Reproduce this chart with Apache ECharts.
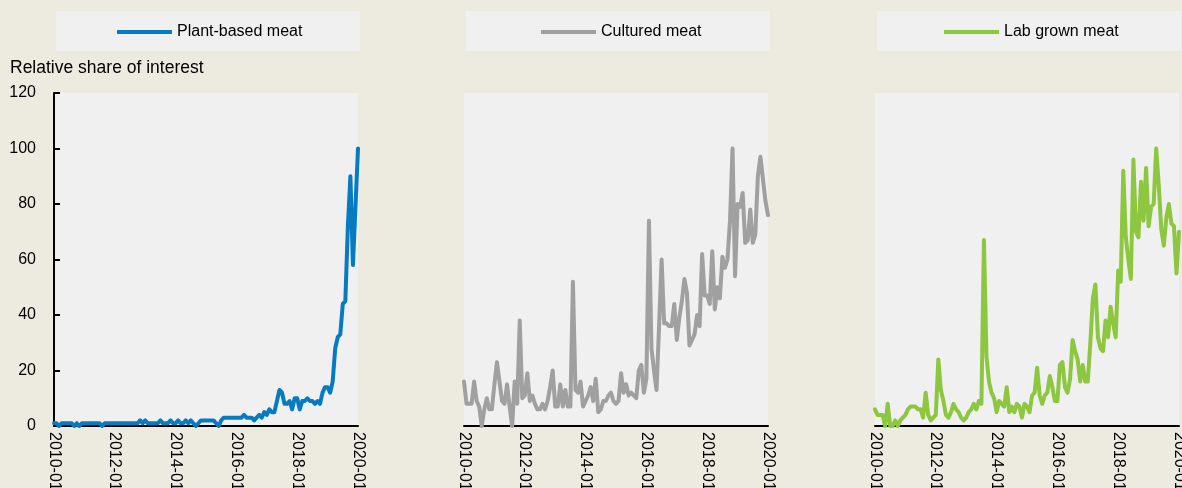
<!DOCTYPE html>
<html>
<head>
<meta charset="utf-8">
<script src="https://cdn.jsdelivr.net/npm/echarts@6/dist/echarts.min.js"></script>
<style>
	html, body { margin: 0; padding: 0; background: #edeae0; }
	#chart { width: 1182px; height: 488px; }
</style>
</head>
<body>
<div id="chart"></div>
<script>
const seriesNames = ['Plant-based meat', 'Cultured meat', 'Lab grown meat']
const seriesColors = ['#067bc1', '#a0a0a0', '#8dc63f']

// monthly, 2010-01 .. 2020-01
const plantBased = [
	1, 1, 0, 1, 1, 1, 1, 1, 0, 1, 0, 1,
	1, 1, 1, 1, 1, 1, 1, 0, 1, 1, 1, 1,
	1, 1, 1, 1, 1, 1, 1, 1, 1, 1, 2, 1,
	2, 1, 1, 1, 1, 1, 2, 1, 1, 1, 2, 1,
	1, 2, 1, 1, 2, 1, 2, 1, 0, 1, 2, 2,
	2, 2, 2, 2, 1, 0, 2, 3, 3, 3, 3, 3,
	3, 3, 3, 4, 3, 3, 3, 2, 3, 4, 3, 5,
	4, 6, 5, 5, 9, 13, 12, 8, 8, 9, 6, 10,
	10, 6, 9, 9, 10, 9, 9, 8, 9, 8, 12, 14,
	14, 12, 16, 28, 32, 33, 44, 45, 72, 90, 58, 79,
	100,
]
const cultured = [
	16, 8, 8, 8, 16, 9, 7, 0, 6, 10, 6, 6,
	15, 23, 16, 9, 8, 15, 7, 0, 16, 8, 38, 10,
	11, 19, 9, 11, 8, 6, 6, 8, 6, 9, 14, 20,
	7, 7, 15, 7, 13, 7, 7, 52, 13, 12, 16, 7,
	9, 11, 14, 9, 17, 5, 6, 9, 9, 11, 12, 9,
	8, 9, 19, 12, 15, 11, 12, 11, 10, 20, 22, 12,
	17, 74, 28, 20, 13, 36, 60, 37, 37, 36, 36, 44,
	31, 39, 45, 53, 48, 29, 31, 33, 40, 36, 62, 47,
	47, 44, 63, 42, 50, 46, 61, 57, 60, 74, 100, 54,
	80, 79, 84, 66, 67, 78, 66, 69, 90, 97, 89, 81,
	76,
]
const labGrown = [
	6, 4, 4, 4, 0, 8, 0, 0, 2, 0, 2, 3,
	4, 6, 7, 7, 7, 6, 6, 3, 12, 4, 2, 3,
	4, 24, 13, 9, 4, 3, 5, 8, 6, 5, 3, 2,
	3, 5, 6, 8, 6, 9, 8, 67, 25, 16, 12, 10,
	5, 9, 8, 7, 14, 5, 7, 5, 8, 7, 3, 8,
	7, 5, 11, 12, 21, 11, 8, 11, 12, 18, 14, 9,
	9, 22, 23, 14, 12, 17, 31, 27, 24, 16, 22, 16,
	16, 30, 46, 51, 32, 28, 27, 38, 32, 43, 37, 32,
	56, 52, 92, 68, 60, 53, 96, 70, 68, 88, 74, 93,
	72, 79, 80, 100, 87, 71, 65, 75, 80, 73, 72, 55,
	70,
]
const yMin = 0
const yMax = 120
const yStep = 20
const yTitle = 'Relative share of interest'

// category labels 2010-01 .. 2020-01
const months = []
for (let y = 2010; y <= 2020; y++) {
	for (let m = 1; m <= 12; m++) months.push(y + '-' + String(m).padStart(2, '0'))
}
months.length = plantBased.length

const allData = [plantBased, cultured, labGrown]
const font = 'Liberation Sans, Arial, sans-serif'
const plotLeft = [54, 464, 875]
const boxLeft = [56, 466, 877]
const legendLeft = [117, 541, 944]

const chart = echarts.init(document.getElementById('chart'))

chart.setOption({
	animation: false,
	backgroundColor: '#edeae0',
	textStyle: { fontFamily: font },
	grid: plotLeft.map((l) => ({
		left: l, width: 304, top: 93, height: 333,
		outerBoundsMode: 'none',
		containLabel: false,
		show: true, backgroundColor: '#f0f0f0', borderWidth: 0,
	})),
	xAxis: plotLeft.map((l, i) => ({
		type: 'category',
		gridIndex: i,
		data: months,
		boundaryGap: false,
		axisLine: { lineStyle: { color: '#000', width: 2 } },
		axisTick: { show: false },
		axisLabel: { interval: 23, rotate: -90, fontSize: 16, color: '#000', margin: 6, fontFamily: font },
		splitLine: { show: false },
	})),
	yAxis: plotLeft.map((l, i) => ({
		type: 'value',
		gridIndex: i,
		min: yMin, max: yMax, interval: yStep,
		show: i === 0,
		axisLine: { show: true, lineStyle: { color: '#000', width: 2 } },
		axisTick: { show: true, inside: true, length: 6, lineStyle: { color: '#000', width: 2 } },
		axisLabel: { fontSize: 16, color: '#000', margin: 18, fontFamily: font },
		splitLine: { show: false },
	})),
	legend: seriesNames.map((name, i) => ({
		data: [name],
		left: legendLeft[i], top: 24, padding: 0,
		icon: 'rect', itemWidth: 55, itemHeight: 4,
		textStyle: { fontSize: 16, color: '#000', fontFamily: font },
	})),
	graphic: [
		...boxLeft.map((l) => ({
			type: 'rect', z: 0,
			shape: { x: l, y: 11, width: 304, height: 40 },
			style: { fill: '#f0f0f0' },
		})),
		{
			type: 'text', left: 10, top: 59,
			style: { text: yTitle, font: '17.5px ' + font, fill: '#000' },
		},
	],
	series: seriesNames.map((name, i) => ({
		name,
		type: 'line',
		xAxisIndex: i,
		yAxisIndex: i,
		data: allData[i],
		showSymbol: false,
		color: seriesColors[i],
		lineStyle: { width: 4, color: seriesColors[i], join: 'round', cap: 'round' },
	})),
})
</script>
</body>
</html>
